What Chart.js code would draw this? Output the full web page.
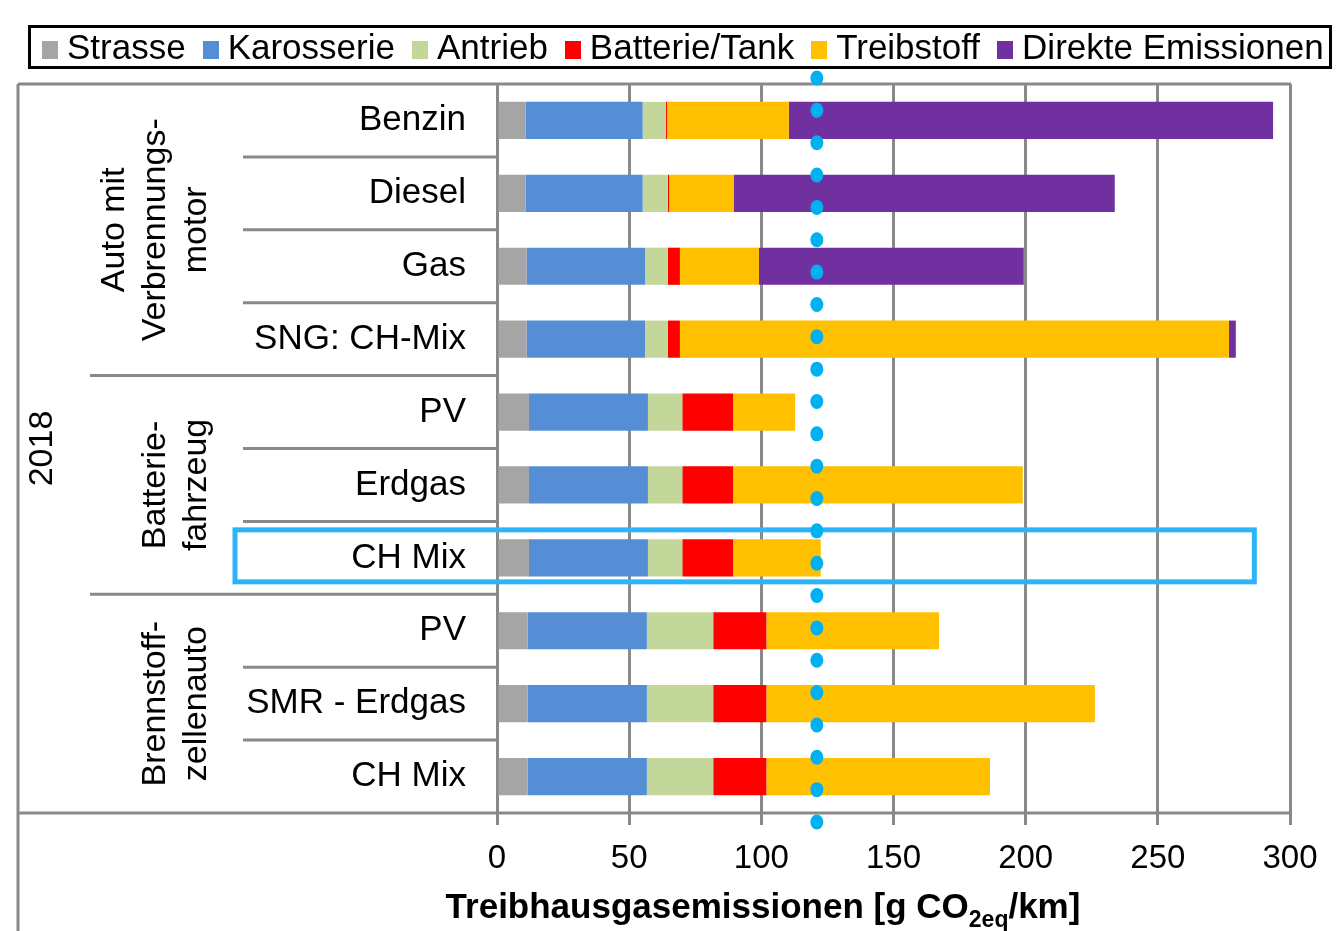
<!DOCTYPE html>
<html lang="de">
<head>
<meta charset="UTF-8">
<title>Treibhausgasemissionen</title>
<script src="https://cdn.jsdelivr.net/npm/chart.js"></script>
<style>
    body { margin: 0; background: #fff; }
    .wrap { position: relative; width: 1337px; height: 931px; }
    #legend {
        position: absolute; left: 28px; top: 25px; width: 1304px; height: 44px;
        box-sizing: border-box; border: 3px solid #000; padding-left: 11px;
        font: 35px "Liberation Sans", Arial, sans-serif; line-height: 38px;
        white-space: nowrap; color: #000;
    }
    #legend .box { display: inline-block; width: 16px; height: 18px; margin-right: 9px; vertical-align: baseline; }
    #legend .item { margin-right: 17px; }
</style>
</head>
<body>
<div class="wrap">
    <canvas id="chart" width="1337" height="931"></canvas>
    <div id="legend"></div>
</div>

<script>
    const categories = ['Benzin', 'Diesel', 'Gas', 'SNG: CH-Mix', 'PV', 'Erdgas', 'CH Mix', 'PV', 'SMR - Erdgas', 'CH Mix'];

    // Werte in g CO2eq/km
    const strasse    = [10.9, 10.9, 11.2, 11.2, 12.1, 12.1, 12.1, 11.6, 11.6, 11.6];
    const karosserie = [44.2, 44.2, 44.8, 44.8, 45.0, 45.0, 45.0, 45.1, 45.1, 45.1];
    const antrieb    = [8.8, 9.5, 8.7, 8.7, 13.0, 13.0, 13.0, 25.1, 25.1, 25.1];
    const batterie   = [0.4, 0.5, 4.5, 4.5, 19.2, 19.2, 19.2, 20.1, 20.1, 20.1];
    const treibstoff = [46.1, 24.4, 29.9, 207.7, 23.5, 109.6, 33.2, 65.3, 124.3, 84.6];
    const direkt     = [183.2, 144.2, 100.2, 2.6, 0, 0, 0, 0, 0, 0];

    const xTicks = [0, 50, 100, 150, 200, 250, 300];

    const groupLabels = [['Auto mit', 'Verbrennungs-', 'motor'], ['Batterie-', 'fahrzeug'], ['Brennstoff-', 'zellenauto']];
    const groupStarts = [0, 4, 7];
    const groupEnds = [3, 6, 9];
    const yearLabel = '2018';

    const referenceValue = 121;   // gepunktete Linie
    const highlightRow = 6;       // BEV CH Mix
    const highlightEnd = 286.5;

    const FONT = '"Liberation Sans", Arial, sans-serif';
    const GRID = '#898989';

    const series = [
        { label: 'Strasse', data: strasse, color: '#A5A5A5' },
        { label: 'Karosserie', data: karosserie, color: '#558ED5' },
        { label: 'Antrieb', data: antrieb, color: '#C4D79B' },
        { label: 'Batterie/Tank', data: batterie, color: '#FF0000' },
        { label: 'Treibstoff', data: treibstoff, color: '#FFC000' },
        { label: 'Direkte Emissionen', data: direkt, color: '#7030A0' }
    ];

    // Legende als HTML
    const legend = document.getElementById('legend');
    series.forEach(s => {
        const item = document.createElement('span');
        item.className = 'item';
        item.innerHTML = `<span class="box" style="background:${s.color}"></span>${s.label}`;
        legend.appendChild(item);
    });

    const decorations = {
        id: 'decorations',
        afterDraw(chart) {
            const ctx = chart.ctx;
            const area = chart.chartArea;
            const x = chart.scales.x;
            const y = chart.scales.y;
            const rowH = y.getPixelForValue(1) - y.getPixelForValue(0);

            ctx.save();
            ctx.strokeStyle = GRID;
            ctx.lineWidth = 3;
            ctx.beginPath();
            // Rahmen
            ctx.moveTo(18, area.top); ctx.lineTo(area.right + 1, area.top);
            ctx.moveTo(18, area.top); ctx.lineTo(18, 931);
            ctx.moveTo(18, area.bottom); ctx.lineTo(area.right + 1, area.bottom);
            // Trennlinien zwischen den Kategorien
            for (let i = 0; i < categories.length - 1; i++) {
                const yy = y.getPixelForValue(i) + rowH / 2;
                const startX = groupStarts.includes(i + 1) ? 90 : 243;
                ctx.moveTo(startX, yy); ctx.lineTo(area.left, yy);
            }
            ctx.stroke();

            // Gruppenbeschriftung (gedreht)
            ctx.fillStyle = '#000';
            ctx.font = '34px ' + FONT;
            ctx.textAlign = 'center';
            ctx.textBaseline = 'alphabetic';
            groupLabels.forEach((lines, g) => {
                const cy = (y.getPixelForValue(groupStarts[g]) + y.getPixelForValue(groupEnds[g])) / 2;
                lines.forEach((line, k) => {
                    const bx = 206 - (lines.length - 1 - k) * 41;
                    ctx.save();
                    ctx.translate(bx, cy);
                    ctx.rotate(-Math.PI / 2);
                    ctx.fillText(line, 0, 0);
                    ctx.restore();
                });
            });
            ctx.save();
            ctx.translate(52, (area.top + area.bottom) / 2);
            ctx.rotate(-Math.PI / 2);
            ctx.fillText(yearLabel, 0, 0);
            ctx.restore();

            // Hervorhebung
            const hy = y.getPixelForValue(highlightRow) - 2;
            ctx.strokeStyle = '#2DB4F8';
            ctx.lineWidth = 5;
            ctx.strokeRect(235, hy - 26, x.getPixelForValue(highlightEnd) - 235, 52);

            // gepunktete Referenzlinie
            const rx = x.getPixelForValue(referenceValue);
            const top = area.top - 6, bottom = area.bottom + 9, n = 24;
            ctx.fillStyle = '#00B0F0';
            for (let i = 0; i < n; i++) {
                const py = top + (bottom - top) * i / (n - 1);
                ctx.beginPath();
                ctx.ellipse(rx, py, 6.5, 7.5, 0, 0, Math.PI * 2);
                ctx.fill();
            }

            // Achsentitel mit Index
            const main1 = 'Treibhausgasemissionen [g CO', sub = '2eq', main2 = '/km]';
            ctx.fillStyle = '#000';
            ctx.textAlign = 'left';
            ctx.font = 'bold 35px ' + FONT;
            const w1 = ctx.measureText(main1).width, w3 = ctx.measureText(main2).width;
            ctx.font = 'bold 23px ' + FONT;
            const w2 = ctx.measureText(sub).width;
            let tx = 763 - (w1 + w2 + w3) / 2;
            const base = 918;
            ctx.font = 'bold 35px ' + FONT;
            ctx.fillText(main1, tx, base); tx += w1;
            ctx.font = 'bold 23px ' + FONT;
            ctx.fillText(sub, tx, base + 9); tx += w2;
            ctx.font = 'bold 35px ' + FONT;
            ctx.fillText(main2, tx, base);
            ctx.restore();
        }
    };

    const ctx = document.getElementById('chart').getContext('2d');
    new Chart(ctx, {
        type: 'bar',
        data: {
            labels: categories,
            datasets: series.map(s => ({
                label: s.label,
                data: s.data,
                backgroundColor: s.color,
                borderWidth: 0,
                barPercentage: 0.51,
                categoryPercentage: 1
            }))
        },
        options: {
            indexAxis: 'y',
            responsive: false,
            animation: false,
            devicePixelRatio: 1,
            layout: { padding: { top: 84, left: 18, right: 47, bottom: 0 } },
            plugins: {
                legend: { display: false },
                tooltip: { enabled: false }
            },
            scales: {
                x: {
                    stacked: true,
                    min: xTicks[0],
                    max: xTicks[xTicks.length - 1],
                    afterBuildTicks: scale => { scale.ticks = xTicks.map(v => ({ value: v })); },
                    ticks: { color: '#000', font: { size: 33, family: FONT }, padding: 14, maxRotation: 0 },
                    grid: { color: GRID, lineWidth: 3, tickLength: 12 },
                    border: { display: false },
                    afterFit: scale => { scale.height = 118; }
                },
                y: {
                    stacked: true,
                    ticks: { color: '#000', font: { size: 35, family: FONT }, padding: 31 },
                    grid: { display: false, drawTicks: false },
                    border: { display: false },
                    afterFit: scale => { scale.width = 479; }
                }
            }
        },
        plugins: [decorations]
    });
</script>
</body>
</html>
